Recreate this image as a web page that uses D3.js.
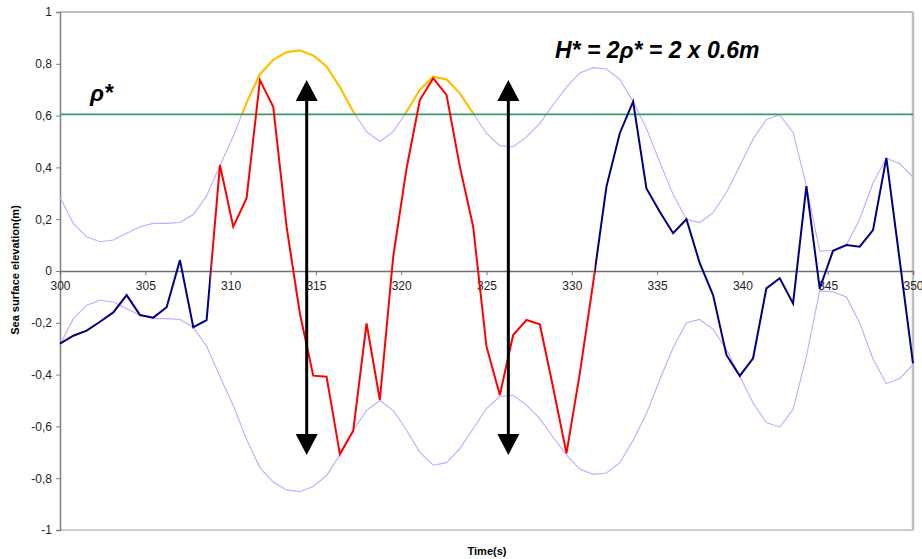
<!DOCTYPE html>
<html>
<head>
<meta charset="utf-8">
<script src="https://cdn.jsdelivr.net/npm/d3@7/dist/d3.min.js"></script>
<style>
  html, body { margin: 0; padding: 0; background: #fff; }
  svg { display: block; font-family: Arial, "Liberation Sans", sans-serif; }
</style>
</head>
<body>
<svg id="chart" width="922" height="559"></svg>
<script>
// ---------------- data ----------------
const time = [300, 300.781, 301.563, 302.344, 303.125, 303.906, 304.688, 305.469, 306.25, 307.031,
  307.813, 308.594, 309.375, 310.156, 310.938, 311.719, 312.5, 313.281, 314.063, 314.844,
  315.625, 316.406, 317.188, 317.969, 318.75, 319.531, 320.313, 321.094, 321.875, 322.656,
  323.438, 324.219, 325, 325.781, 326.563, 327.344, 328.125, 328.906, 329.688, 330.469,
  331.25, 332.031, 332.813, 333.594, 334.375, 335.156, 335.938, 336.719, 337.5, 338.281,
  339.063, 339.844, 340.625, 341.406, 342.188, 342.969, 343.75, 344.531, 345.313, 346.094,
  346.875, 347.656, 348.438, 349.219, 350];

const elevation = [-0.28, -0.25, -0.23, -0.196, -0.16, -0.093, -0.17, -0.18, -0.14, 0.042,
  -0.217, -0.19, 0.409, 0.171, 0.281, 0.737, 0.634, 0.171, -0.165, -0.404,
  -0.408, -0.707, -0.617, -0.202, -0.498, 0.055, 0.396, 0.66, 0.744, 0.68,
  0.403, 0.171, -0.292, -0.479, -0.247, -0.189, -0.206, -0.45, -0.704, -0.395,
  -0.047, 0.326, 0.532, 0.654, 0.319, 0.229, 0.146, 0.20, 0.03, -0.093,
  -0.324, -0.405, -0.337, -0.067, -0.028, -0.125, 0.328, -0.067, 0.078, 0.10,
  0.094, 0.158, 0.437, 0.042, -0.357];

const envelope = [0.285, 0.184, 0.132, 0.113, 0.12, 0.146, 0.171, 0.184, 0.184, 0.187,
  0.218, 0.29, 0.407, 0.52, 0.65, 0.76, 0.815, 0.845, 0.852, 0.832,
  0.79, 0.71, 0.615, 0.538, 0.50, 0.538, 0.615, 0.70, 0.75, 0.74,
  0.686, 0.609, 0.531, 0.484, 0.48, 0.518, 0.57, 0.642, 0.71, 0.765,
  0.785, 0.78, 0.74, 0.654, 0.55, 0.42, 0.296, 0.20, 0.187, 0.225,
  0.303, 0.405, 0.51, 0.585, 0.603, 0.535, 0.33, 0.077, 0.08, 0.10,
  0.20, 0.34, 0.435, 0.415, 0.362];

const rhoStar = 0.605;                 // threshold line
const redWindow = [308.84, 331.35];    // zero up-crossing to zero up-crossing
const crestWindow = [308.84, 326.3];   // envelope crests highlighted
const arrowTimes = [314.46, 326.28];
const arrowRange = [0.737, -0.71];

const xTicks = [300, 305, 310, 315, 320, 325, 330, 335, 340, 345, 350];
const yTicks = [1, 0.8, 0.6, 0.4, 0.2, 0, -0.2, -0.4, -0.6, -0.8, -1];
const yTickLabels = ["1", "0,8", "0,6", "0,4", "0,2", "0", "-0,2", "-0,4", "-0,6", "-0,8", "-1"];

// ---------------- layout ----------------
const svg = d3.select("#chart");
const x = d3.scaleLinear().domain([300, 350]).range([60, 913]);
const y = d3.scaleLinear().domain([-1, 1]).range([530, 12]);

const pts = time.map((t, i) => ({ t, v: elevation[i], a: envelope[i] }));

const defs = svg.append("defs");
defs.append("clipPath").attr("id", "redClip").append("rect")
  .attr("x", x(redWindow[0])).attr("y", 0)
  .attr("width", x(redWindow[1]) - x(redWindow[0])).attr("height", 559);
const blueClip = defs.append("clipPath").attr("id", "blueClip");
blueClip.append("rect").attr("x", 0).attr("y", 0)
  .attr("width", x(redWindow[0])).attr("height", 559);
blueClip.append("rect").attr("x", x(redWindow[1])).attr("y", 0)
  .attr("width", 922 - x(redWindow[1])).attr("height", 559);
defs.append("clipPath").attr("id", "crestClip").append("rect")
  .attr("x", x(crestWindow[0])).attr("y", 0)
  .attr("width", x(crestWindow[1]) - x(crestWindow[0])).attr("height", y(rhoStar));

// frame
svg.append("line").attr("x1", x(300)).attr("x2", x(350)).attr("y1", y(1)).attr("y2", y(1))
  .attr("stroke", "#c0c0c0").attr("stroke-width", 2);
svg.append("line").attr("x1", x(350)).attr("x2", x(350)).attr("y1", y(1)).attr("y2", y(-1))
  .attr("stroke", "#c0c0c0").attr("stroke-width", 2.5);
svg.append("line").attr("x1", x(300)).attr("x2", x(350)).attr("y1", y(-1)).attr("y2", y(-1))
  .attr("stroke", "#9a9a9a").attr("stroke-width", 1);

// y axis
const yAxis = d3.axisLeft(y).tickValues(yTicks).tickSize(4).tickPadding(4)
  .tickFormat((d, i) => yTickLabels[i]);
const gy = svg.append("g").attr("transform", `translate(${x(300)},0)`).call(yAxis);
gy.select(".domain").attr("stroke", "#808080").attr("stroke-width", 1.5);
gy.selectAll(".tick line").attr("stroke", "#808080");
gy.selectAll(".tick text").attr("fill", "#222").style("font-size", "12px")
  .style("font-family", "Arial, 'Liberation Sans', sans-serif");

// x axis at zero
const xAxis = d3.axisBottom(x).tickValues(xTicks).tickSize(4).tickPadding(6)
  .tickFormat(d3.format("d"));
const gx = svg.append("g").attr("transform", `translate(0,${y(0)})`).call(xAxis);
gx.select(".domain").attr("stroke", "#707070").attr("stroke-width", 1.3);
gx.selectAll(".tick line").attr("stroke", "#707070");
gx.selectAll(".tick text").attr("fill", "#222").style("font-size", "12px")
  .style("font-family", "Arial, 'Liberation Sans', sans-serif");

// envelopes
const upper = d3.line().x(d => x(d.t)).y(d => y(d.a));
const lower = d3.line().x(d => x(d.t)).y(d => y(-d.a));
svg.append("path").datum(pts).attr("d", upper).attr("fill", "none")
  .attr("stroke", "#c9a6ff").attr("stroke-width", 1.1);
svg.append("path").datum(pts).attr("d", lower).attr("fill", "none")
  .attr("stroke", "#c9a6ff").attr("stroke-width", 1.1);
svg.append("path").datum(pts).attr("d", upper).attr("fill", "none")
  .attr("stroke", "#ffc000").attr("stroke-width", 2.2)
  .attr("clip-path", "url(#crestClip)");

// threshold line
svg.append("line").attr("x1", x(300)).attr("x2", x(350))
  .attr("y1", y(rhoStar)).attr("y2", y(rhoStar))
  .attr("stroke", "#3b9a6b").attr("stroke-width", 1.8);

// elevation series
const sig = d3.line().x(d => x(d.t)).y(d => y(d.v));
svg.append("path").datum(pts).attr("d", sig).attr("fill", "none")
  .attr("stroke", "#000080").attr("stroke-width", 2).attr("stroke-linejoin", "miter")
  .attr("clip-path", "url(#blueClip)");
svg.append("path").datum(pts).attr("d", sig).attr("fill", "none")
  .attr("stroke", "#ff0000").attr("stroke-width", 2).attr("stroke-linejoin", "miter")
  .attr("clip-path", "url(#redClip)");

// double arrows
arrowTimes.forEach(t => {
  const ax = x(t), yt = y(arrowRange[0]), yb = y(arrowRange[1]);
  const hw = 11, hh = 21;
  svg.append("line").attr("x1", ax).attr("x2", ax).attr("y1", yt + hh - 2).attr("y2", yb - hh + 2)
    .attr("stroke", "#000").attr("stroke-width", 3);
  svg.append("path").attr("d", `M${ax},${yt} L${ax - hw},${yt + hh} L${ax + hw},${yt + hh} Z`).attr("fill", "#000");
  svg.append("path").attr("d", `M${ax},${yb} L${ax - hw},${yb - hh} L${ax + hw},${yb - hh} Z`).attr("fill", "#000");
});

// annotations
svg.append("text").attr("x", 90).attr("y", 101)
  .style("font-size", "23px").style("font-weight", "bold").style("font-style", "italic")
  .text("ρ*");
svg.append("text").attr("x", 555).attr("y", 58)
  .style("font-size", "23px").style("font-weight", "bold").style("font-style", "italic")
  .text("H* = 2ρ* = 2 x 0.6m");

// axis titles
svg.append("text").attr("x", 487).attr("y", 555).attr("text-anchor", "middle")
  .style("font-size", "11px").style("font-weight", "bold").text("Time(s)");
svg.append("text").attr("transform", "translate(19,270) rotate(-90)").attr("text-anchor", "middle")
  .style("font-size", "11px").style("font-weight", "bold").text("Sea surface elevation(m)");
</script>
</body>
</html>
